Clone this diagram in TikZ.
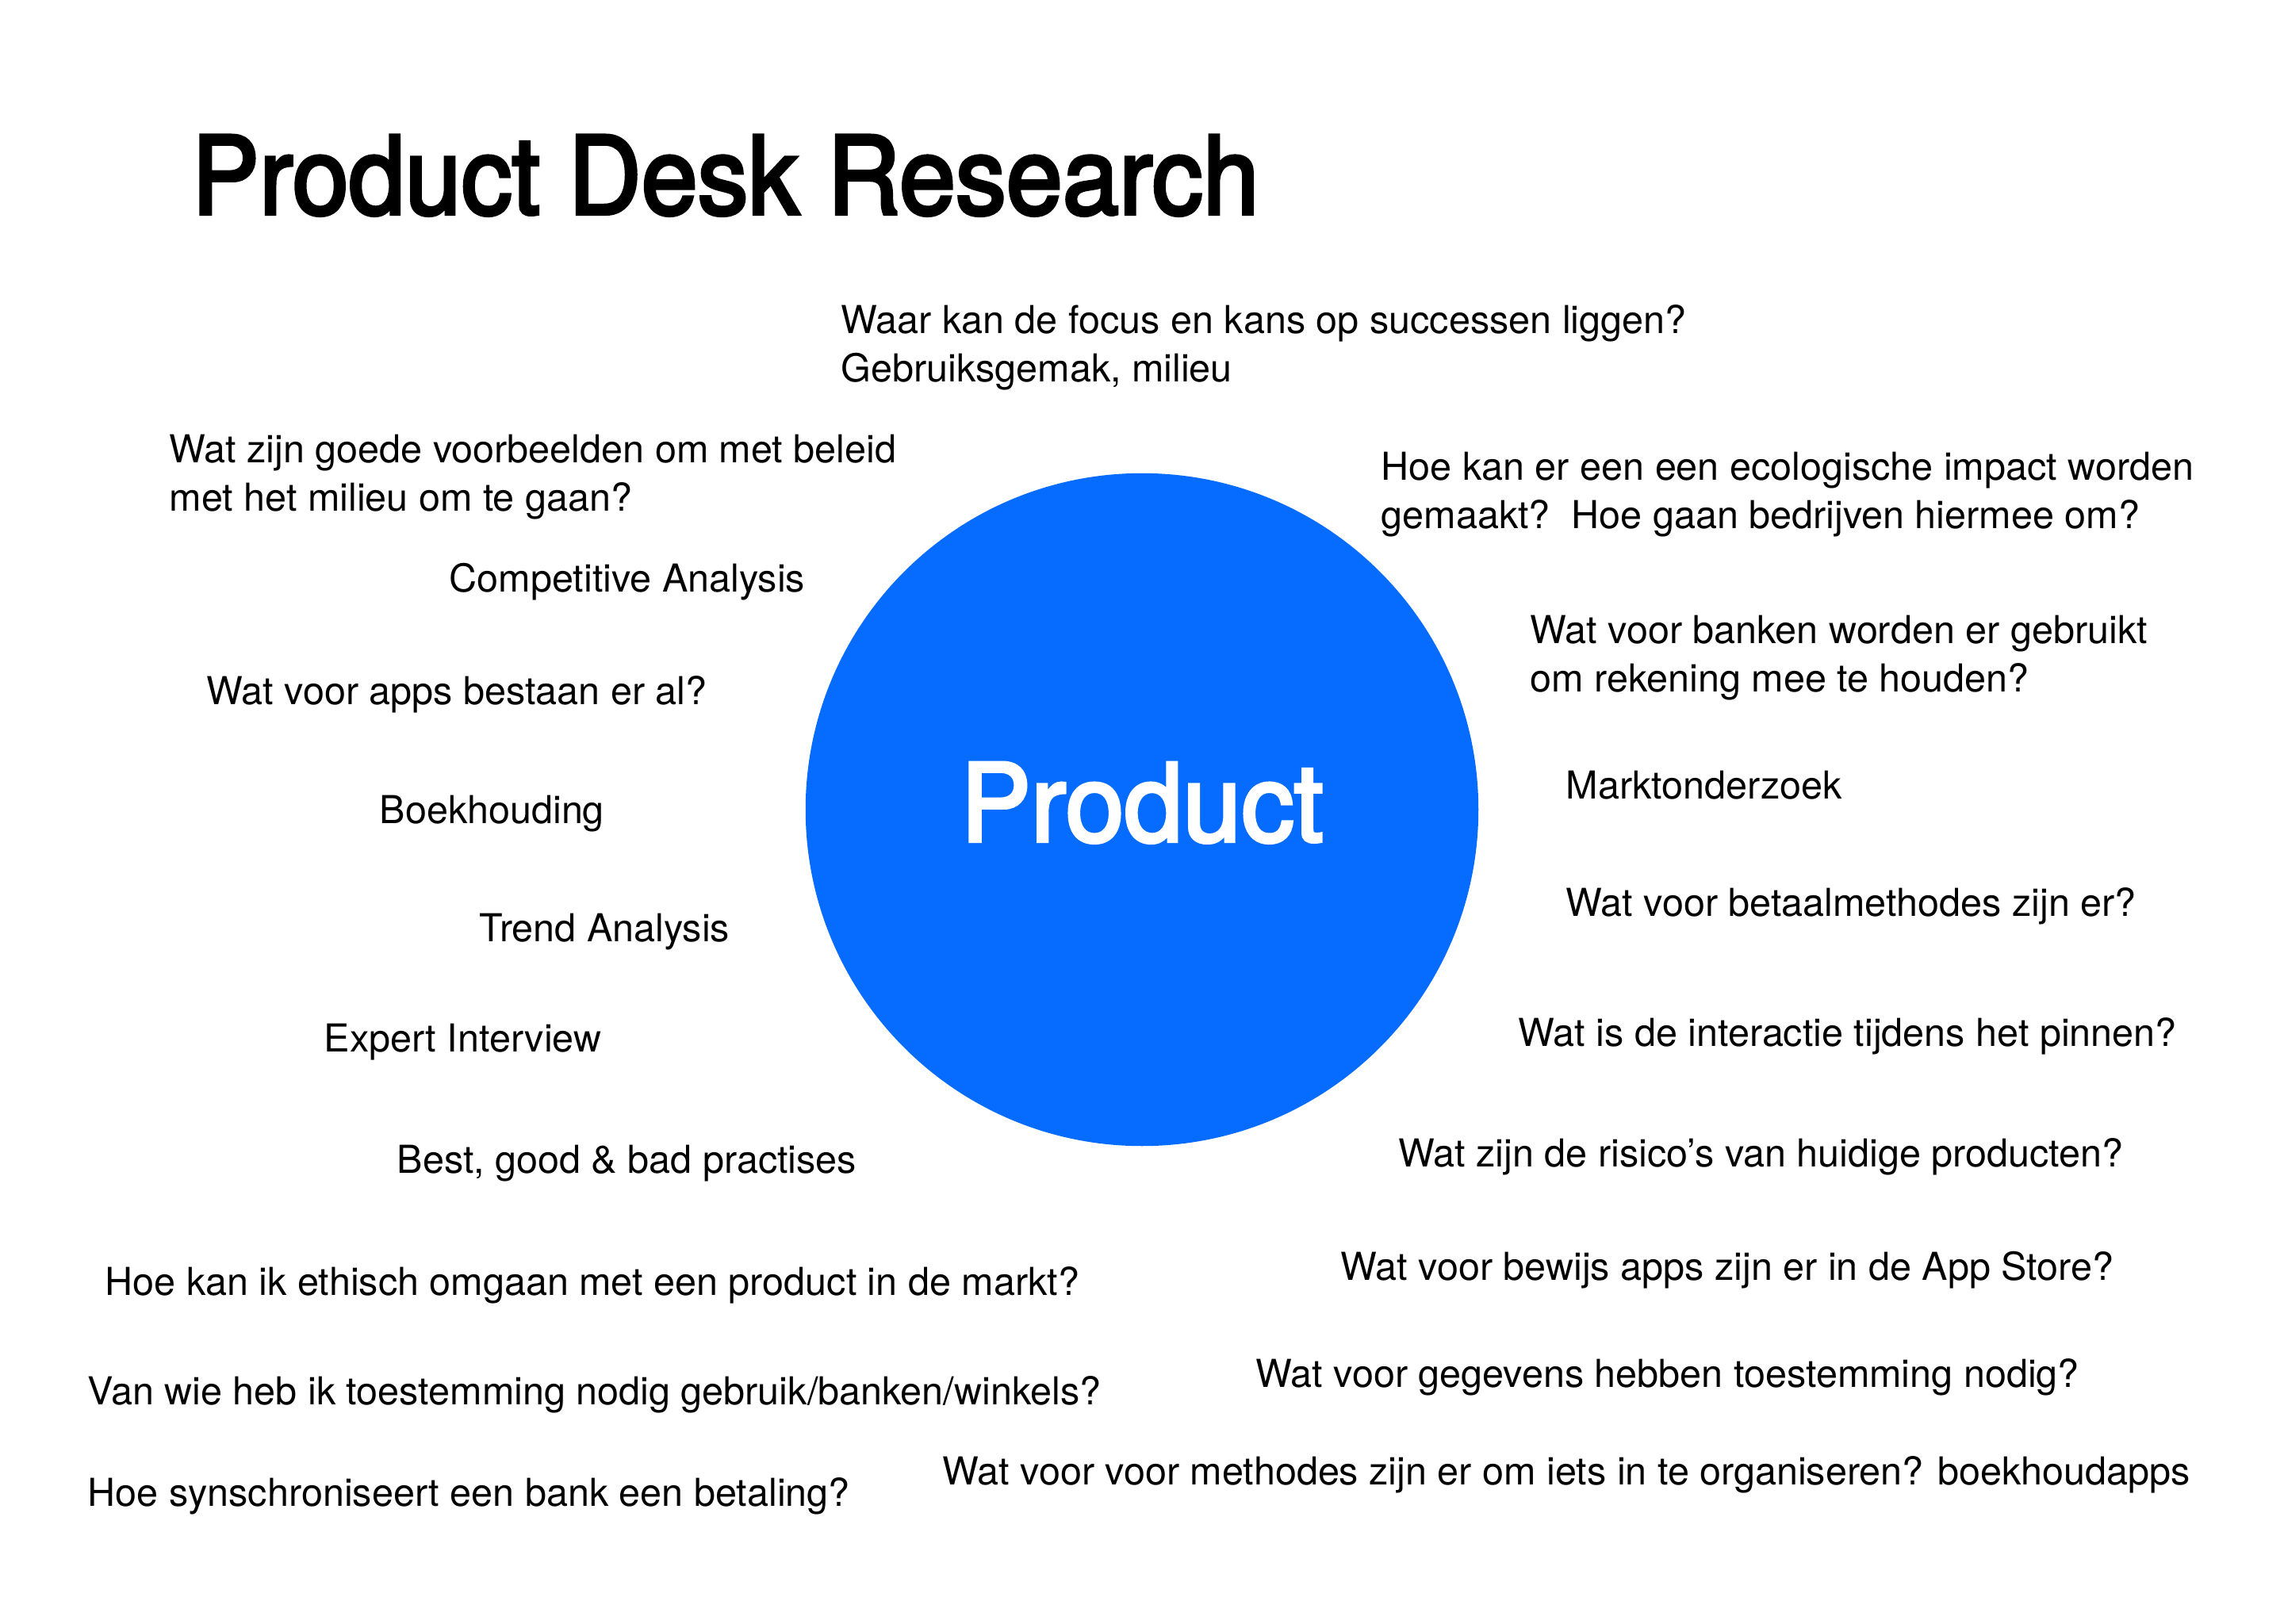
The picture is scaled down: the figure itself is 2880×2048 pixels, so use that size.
\documentclass[tikz,border=0pt]{standalone}
\usepackage{fontspec}
\setmainfont{TeX Gyre Heros}
\newfontfamily\headfont{TeX Gyre Heros}[FakeBold=3,FakeStretch=0.936]
\newfontfamily\bubblefont{TeX Gyre Heros}[FakeBold=3,FakeStretch=0.974]
\definecolor{prodblue}{RGB}{6,108,255}
\tikzset{
  txt/.style={anchor=base west, inner sep=0pt, align=left, text=black,
    font=\fontsize{13.8}{17.07}\selectfont},
  heading/.style={anchor=base west, inner sep=0pt, text=black,
    font=\headfont\fontsize{38.8}{44}\selectfont},
  bubble/.style={circle, fill=prodblue, draw=none, minimum size=8.48cm, inner sep=0pt,
    text=white, text height=1cm, text depth=0.2cm,
    font=\bubblefont\fontsize{38.8}{44}\selectfont}
}
\begin{document}
\begin{tikzpicture}[x=0.01cm,y=-0.01cm]
\useasboundingbox (0,0) rectangle (2880,2048);
\fill[white] (0,0) rectangle (2880,2048);

\node[heading] (title) at (241,270) {Product Desk Research};
\node[bubble] (product) at (1440,1021) {Product};

% top / left (multi-line nodes: y is the baseline of the last line)
\node[txt] (focus) at (1060,481) {Waar kan de focus en kans op successen liggen?\\Gebruiksgemak, milieu};
\node[txt] (voorbeelden) at (213,644) {Wat zijn goede voorbeelden om met beleid\\met het milieu om te gaan?};
\node[txt] (competitive) at (566,746) {Competitive Analysis};
\node[txt] (apps) at (260,888) {Wat voor apps bestaan er al?};
\node[txt] (boekhouding) at (478,1038) {Boekhouding};
\node[txt] (trend) at (604,1187) {Trend Analysis};
\node[txt] (expert) at (408,1326) {Expert Interview};
\node[txt] (practises) at (500,1479) {Best, good \& bad practises};
\node[txt] (ethisch) at (132,1633) {Hoe kan ik ethisch omgaan met een product in de markt?};
\node[txt] (toestemming) at (110,1771) {Van wie heb ik toestemming nodig gebruik/banken/winkels?};
\node[txt] (sync) at (110,1899) {Hoe synschroniseert een bank een betaling?};

% right
\node[txt] (ecologisch) at (1741,666) {Hoe kan er een een ecologische impact worden\\gemaakt?\ \ Hoe gaan bedrijven hiermee om?};
\node[txt] (banken) at (1929,872) {Wat voor banken worden er gebruikt\\om rekening mee te houden?};
\node[txt] (markt) at (1974,1007) {Marktonderzoek};
\node[txt] (betaal) at (1974,1155) {Wat voor betaalmethodes zijn er?};
\node[txt] (pinnen) at (1914,1319) {Wat is de interactie tijdens het pinnen?};
\node[txt] (risico) at (1763,1471) {Wat zijn de risico’s van huidige producten?};
\node[txt] (bewijs) at (1690,1614) {Wat voor bewijs apps zijn er in de App Store?};
\node[txt] (gegevens) at (1583,1749) {Wat voor gegevens hebben toestemming nodig?};
\node[txt] (methodes) at (1188,1872) {Wat voor voor methodes zijn er om iets in te organiseren? boekhoudapps};
\end{tikzpicture}
\end{document}
